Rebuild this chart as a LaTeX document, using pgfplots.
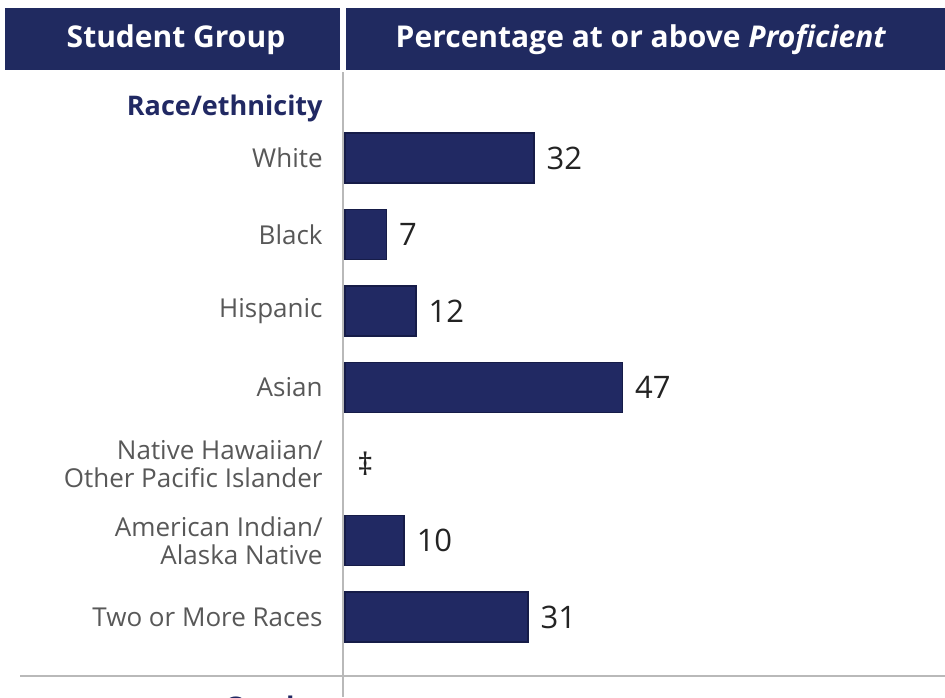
\documentclass[border=0pt]{standalone}
\usepackage{fontspec}
\setmainfont{Open Sans}
\usepackage{pgfplots}
\pgfplotsset{compat=1.18}
\definecolor{navy}{RGB}{33,41,99}
\definecolor{navyd}{RGB}{22,28,72}
\definecolor{hdr}{RGB}{32,42,96}
\definecolor{lbl}{RGB}{88,88,88}
\definecolor{val}{RGB}{35,35,35}
\definecolor{rule}{RGB}{185,185,185}
\begin{document}
\begin{tikzpicture}[x=0.5pt,y=-0.5pt]
\clip (0,0) rectangle (945,697);
\fill[white] (0,0) rectangle (945,697);
% header
\fill[hdr] (5,8) rectangle (340,70);
\fill[hdr] (346,8) rectangle (945,70);
\node[white,font=\bfseries\fontsize{15}{17}\selectfont] at (176,40) {Student Group};
\node[white,font=\bfseries\fontsize{15}{17}\selectfont] at (641,40) {Percentage at or above \textit{Proficient}};
% rules
\draw[rule,line width=0.8pt] (343,72) -- (343,697);
\draw[rule,line width=0.8pt] (20,676) -- (945,676);
% group labels
\node[anchor=east,inner sep=0pt,text=navy,font=\bfseries\fontsize{13.5}{15}\selectfont] at (323,108) {Race/ethnicity};
\node[anchor=base east,inner sep=0pt,text=navy,font=\bfseries\fontsize{13.5}{15}\selectfont] at (323,716) {Gender};
\begin{axis}[
  at={(172.5pt,-36pt)}, anchor=north west,
  scale only axis, width=300pt, height=302pt,
  xmin=0, xmax=101.7, ymin=-1.124, ymax=6.771,
  y dir=reverse, enlargelimits=false, clip=false,
  axis line style={draw=none}, major tick length=0pt,
  xtick=\empty,
  ytick={0,1,2,3,4,5,6},
  yticklabels={White,Black,Hispanic,Asian,{Native Hawaiian/\\Other Pacific Islander},{American Indian/\\Alaska Native},Two or More Races},
  yticklabel style={anchor=east,inner sep=0pt,xshift=-11pt,align=right,text=lbl,font=\fontsize{13}{14}\selectfont},
  /pgf/number format/assume math mode=true,
  xbar, bar width=25pt, bar shift=0pt,
  nodes near coords,
  nodes near coords style={anchor=west,inner sep=0pt,xshift=6pt,text=val,font=\fontsize{15.5}{17}\selectfont},
]
\addplot[fill=navy,draw=navyd,line width=0.75pt] coordinates {(32,0) (7,1) (12,2) (47,3) (10,5) (31,6)};
\addplot[draw=none,fill=none,point meta=explicit symbolic] coordinates {(0,4) [\textdaggerdbl]};
\end{axis}
\end{tikzpicture}
\end{document}
